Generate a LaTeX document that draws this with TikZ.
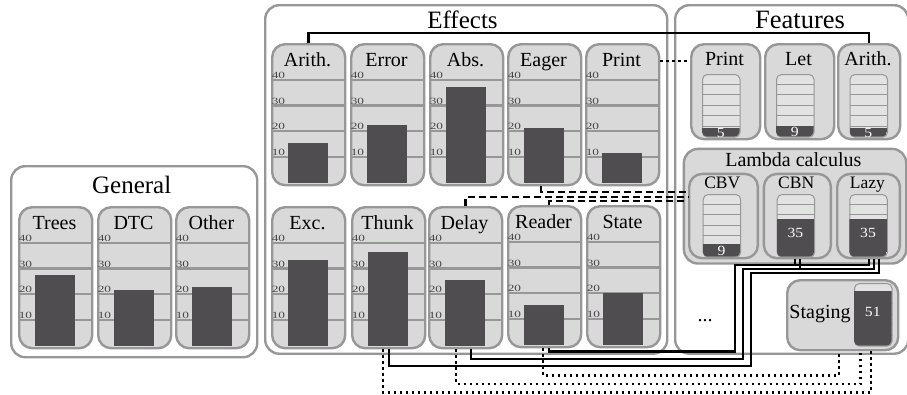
\documentclass[tikz,border=0pt]{standalone}
\usepackage{fontspec}
\setmainfont{Liberation Serif}
\definecolor{cardfill}{HTML}{D9D9D9}
\definecolor{minifill}{HTML}{E2E2E2}
\definecolor{cardline}{HTML}{979797}
\definecolor{barcol}{HTML}{4F4D4F}
\definecolor{tickcol}{HTML}{484848}
\tikzset{
 grp/.style={draw=cardline, line width=2.4pt, fill=white, rounded corners=14pt, anchor=north west, inner sep=0pt},
 card/.style={draw=cardline, line width=2.4pt, fill=cardfill, rounded corners=13pt, anchor=north west, inner sep=0pt, minimum width=73pt, minimum height=141pt},
 gridln/.style={draw=cardline, line width=2.3pt},
 tickl/.style={anchor=south west, inner sep=0pt, font=\fontsize{9.5}{9.5}\selectfont, xscale=1.4, text=tickcol},
 lbl/.style={anchor=base, inner sep=0pt, font=\fontsize{20}{20}\selectfont},
 sublbl/.style={anchor=base, inner sep=0pt, font=\fontsize{17.5}{17.5}\selectfont},
 ttl/.style={anchor=base, inner sep=0pt, font=\fontsize{25}{25}\selectfont},
 minibox/.style={draw=cardline, line width=1pt, fill=minifill, rounded corners=5pt, anchor=north west, inner sep=0pt, minimum width=37.5pt, minimum height=62.7pt},
 minigrid/.style={draw=cardline, line width=1pt},
 barnum/.style={inner sep=0pt, font=\fontsize{14}{14}\selectfont, xscale=1.12, text=white},
 conn/.style={line width=2.5pt, draw=black},
 dotconn/.style={conn, dash pattern=on 2.5pt off 3.5pt},
 dashconn/.style={conn, dash pattern=on 7pt off 4pt},
}
% bar card: name, outer left x, outer top y, label, bar top (relative to outer top)
\newcommand\barcard[5]{%
 \node[card] (#1) at ({#2+1},{#3+1}) {};
 \begin{scope}[shift={(#2,#3)}]
  \foreach \yy/\tl in {38/40,63.6/30,89.2/20,114.8/10}{
    \draw[gridln] (1,\yy) -- (74,\yy);
    \node[tickl] at (1.5,{\yy-1.3}) {\tl};}
  \fill[barcol] (17.7,140.5) rectangle (57.7,#5);
  \node[lbl] at (37.5,24.5) {#4};
 \end{scope}}
% mini chart: name, left x, top y, bar height, text offset from bottom, number
\newcommand\minichart[6]{%
 \node[minibox] (#1) at (#2,#3) {};
 \begin{scope}[shift={(#2,#3)}]
  \foreach \k in {1,...,5}{\draw[minigrid] (0,{\k*10.45}) -- (37.5,{\k*10.45});}
  \begin{scope}
   \clip[rounded corners=5pt] (0,0) rectangle (37.5,62.7);
   \fill[barcol] (0,{62.7-#4}) rectangle (37.5,62.7);
   \node[barnum] at (18.75,{62.7-#5}) {#6};
  \end{scope}
 \end{scope}}
\begin{document}
\begin{tikzpicture}[x=1pt,y=-1pt]
\useasboundingbox (0,0) rectangle (907,394);
% group boxes
\node[grp, minimum width=246pt, minimum height=191pt] (general) at (10,165) {};
\node[grp, minimum width=402pt, minimum height=348.5pt] (effects) at (264,4) {};
\node[grp, minimum width=233pt, minimum height=348.5pt] (features) at (674,4) {};
\node[ttl] (tGeneral) at (131.7,193.3) {General};
\node[ttl] (tEffects) at (462.5,28.3) {Effects};
\node[ttl, font=\fontsize{26.5}{26.5}\selectfont] (tFeatures) at (800,28.3) {Features};
% effects cards
\barcard{eArith}{270}{42}{Arith.}{100.7}
\barcard{eError}{349}{42}{Error}{83}
\barcard{eAbs}{428}{42}{Abs.}{44.7}
\barcard{eEager}{506}{42}{Eager}{85.7}
\barcard{ePrint}{584}{42}{Print}{111.3}
\barcard{eExc}{270}{205}{Exc.}{55}
\barcard{eThunk}{350}{205}{Thunk}{47.3}
\barcard{eDelay}{427}{205}{Delay}{75}
\barcard{eReader}{506}{204}{Reader}{101}
\barcard{eState}{585}{204}{State}{88.7}
% general cards
\barcard{gTrees}{17}{205}{Trees}{70}
\barcard{gDTC}{96}{205}{DTC}{85}
\barcard{gOther}{174}{205}{Other}{82.3}
% feature cards
\node[card, minimum width=69pt, minimum height=95pt] (fPrint) at (690,43) {};
\node[lbl] (lfPrint) at (724.5,65) {Print};
\minichart{mPrint}{702}{74}{8.5}{4}{5}
\node[card, minimum width=69pt, minimum height=95pt] (fLet) at (764,43) {};
\node[lbl] (lfLet) at (798.5,65) {Let};
\minichart{mLet}{776}{74}{11}{5}{9}
\node[card, minimum width=62pt, minimum height=95pt] (fArith) at (837,43) {};
\node[lbl] (lfArith) at (868,65) {Arith.};
\minichart{mArith}{849.5}{74}{8.5}{4}{5}
% lambda calculus
\node[card, rounded corners=14pt, minimum width=222.3pt, minimum height=114.6pt] (lam) at (682.7,147.7) {};
\node[lbl] (llam) at (793.3,166) {Lambda calculus};
\node[card, minimum width=68.7pt, minimum height=84.3pt] (cbv) at (688,172.7) {};
\node[sublbl] (lcbv) at (722.3,188.3) {CBV};
\minichart{mCBV}{702.7}{194}{12.3}{6}{9}
\node[card, minimum width=67pt, minimum height=84.3pt] (cbn) at (762.7,172.7) {};
\node[sublbl] (lcbn) at (796.2,188.3) {CBN};
\minichart{mCBN}{776.7}{194}{37.7}{24}{35}
\node[card, minimum width=62.7pt, minimum height=84.3pt] (lazy) at (836,172.7) {};
\node[sublbl] (llazy) at (867.3,188.3) {Lazy};
\minichart{mLazy}{849.3}{194}{38}{24}{35}
% staging
\node[card, minimum width=111pt, minimum height=70pt] (stag) at (786,279) {};
\node[lbl] (lstag) at (820,318.3) {Staging};
\minichart{mStag}{854}{283}{54.3}{33.3}{51}
\node[lbl] (dots) at (705,321.5) {...};
% connectors
\draw[conn] (eArith.north) -- ++(0,-10) -| (fArith.north);
\draw[dotconn] ([yshift=-18pt]ePrint.north east) -- ([yshift=-18pt]fPrint.north west);
\draw[dashconn] ([xshift=-3.5pt]eEager.south) |- ([yshift=24pt]cbv.west);
\draw[dashconn] (eDelay.north) |- ([yshift=19pt]cbv.west);
\draw[dashconn] ([xshift=4.5pt]eReader.north) |- ([yshift=15pt]cbv.west);
\coordinate (rA) at (735,351.5);
\coordinate (rB) at (735,265);
\coordinate (dA) at (743,359);
\coordinate (dB) at (743,269);
\coordinate (tA) at (751,366);
\coordinate (tB) at (751,273);
\draw[conn] ([xshift=4.5pt]eReader.south) |- (rA) -- (rB) -| ([xshift=-2.2pt]cbn.south);
\draw[conn] (rB) -| ([xshift=0.65pt]lazy.south);
\draw[conn] ([xshift=5.5pt]eDelay.south) |- (dA) -- (dB) -| ([xshift=2.8pt]cbn.south);
\draw[conn] (dB) -| ([xshift=5.65pt]lazy.south);
\draw[conn] ([xshift=0.5pt]eThunk.south) |- (tA) -- (tB) -| ([xshift=10.65pt]lazy.south);
\draw[dotconn] ([xshift=-5.8pt]eThunk.south) -- ++(0,43) -| ([xshift=28.5pt]stag.south);
\draw[dotconn] ([xshift=-9.5pt]eDelay.south) -- ++(0,34.7) -| ([xshift=18pt]stag.south);
\draw[dotconn] ([xshift=-1.5pt]eReader.south) -- ++(0,27.3) -| ([xshift=-3.8pt]stag.south);
\end{tikzpicture}
\end{document}
